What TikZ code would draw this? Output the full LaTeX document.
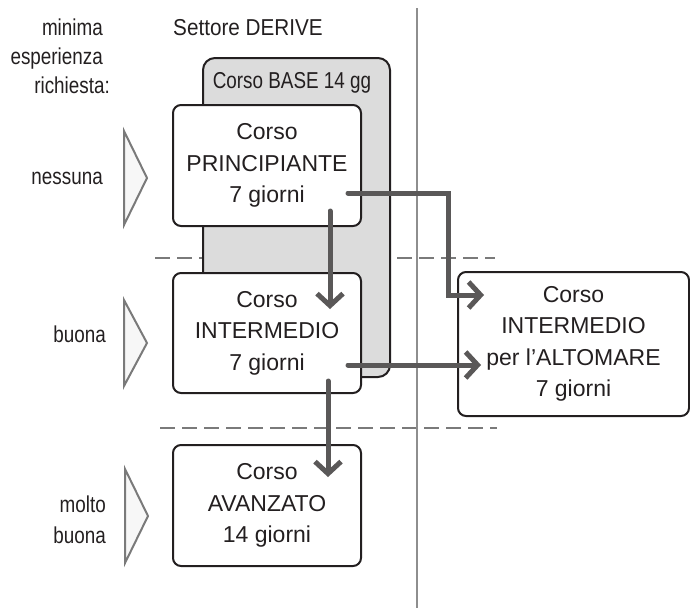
\documentclass[tikz,border=0pt]{standalone}
\usepackage{fontspec}
\setmainfont{Liberation Sans}
\newfontfamily\condfont[FakeStretch=0.82]{Liberation Sans}
\newfontfamily\semicondfont[FakeStretch=0.9]{Liberation Sans}
\usetikzlibrary{arrows.meta,calc}
\definecolor{ink}{HTML}{231F20}
\definecolor{basegray}{HTML}{DCDCDC}
\definecolor{conngray}{HTML}{5A5858}
\definecolor{divgray}{HTML}{7A7A7A}
\definecolor{trifill}{HTML}{F7F7F7}
\begin{document}
\begin{tikzpicture}[x=1pt,y=-1pt,
  font=\fontsize{23}{31.5}\selectfont, text=ink,
  course/.style={draw=ink, line width=2pt, rounded corners=8pt, fill=white,
    inner sep=0pt, align=center},
  basebox/.style={draw=ink, line width=2pt, rounded corners=12pt, fill=basegray,
    inner sep=0pt, minimum width=187pt, minimum height=319pt},
  lbl/.style={font=\condfont\fontsize{23}{29}\selectfont, inner sep=0pt},
  conn/.style={draw=conngray, line width=5pt, line cap=round,
    -{Straight Barb[length=12pt,width=26pt]}},
  divider/.style={draw=divgray, line width=2pt, dash pattern=on 15pt off 7pt},
  vline/.style={draw=divgray!85, line width=2.5pt},
  levtri/.style={draw=divgray, fill=trifill, line width=2pt, line join=miter}
]
\useasboundingbox (0,0) rectangle (690,608);

% dashed level dividers
\draw[divider] (155,258) -- (495,258);
\draw[divider] (160,428) -- (497,428);

% vertical separator
\draw[vline] (417,8) -- (417,608);

% header texts
\node[lbl, font=\semicondfont\fontsize{23}{29}\selectfont, anchor=base west] (sett) at (173,35) {Settore DERIVE};
\node[lbl, anchor=base east] (min) at (103,35) {minima};
\node[lbl, anchor=base east] (esp) at (103,64) {esperienza};
\node[lbl, anchor=base east] (ric) at (110,93) {richiesta:};

% level labels
\node[lbl, anchor=base east] (nes) at (103,184) {nessuna};
\node[lbl, anchor=base east] (buo) at (106,342) {buona};
\node[lbl, anchor=base east] (mol) at (106,512) {molto};
\node[lbl, anchor=base east] (mbu) at (106,543) {buona};

% level triangles
\draw[levtri] (124,131) -- (147,178) -- (124,225) -- cycle;
\draw[levtri] (124,300) -- (147,343) -- (124,386) -- cycle;
\draw[levtri] (125,469) -- (148,516) -- (125,563) -- cycle;

% base course background
\node[basebox] (base) at (296.5,217.5) {};
\node[lbl, anchor=base] (basetxt) at (292,88) {Corso BASE 14 gg};

% course boxes
\node[course, minimum width=188pt, minimum height=121pt] (prin) at (267,165.5)
  {Corso\\PRINCIPIANTE\\7 giorni};
\node[course, minimum width=188pt, minimum height=120pt] (inter) at (267,333)
  {Corso\\INTERMEDIO\\7 giorni};
\node[course, minimum width=188pt, minimum height=121pt] (avan) at (267,505.5)
  {Corso\\AVANZATO\\14 giorni};
\node[course, minimum width=231pt, minimum height=144pt] (alto) at (573.5,344)
  {Corso\\INTERMEDIO\\per l'ALTOMARE\\7 giorni};

% connectors
\draw[conn] ([shift={(-14,27.5)}]prin.east) -| ([shift={(-9,-49)}]alto.west)
  -- ([shift={(27,-49)}]alto.west);
\draw[conn] ([shift={(-14,32)}]inter.east) -- ([shift={(24,21)}]alto.west);
\draw[conn] ([shift={(63,-16)}]prin.south) -- ([shift={(63,37)}]inter.north);
\draw[conn] ([shift={(61,-13)}]inter.south) -- ([shift={(61,33)}]avan.north);
\end{tikzpicture}
\end{document}
